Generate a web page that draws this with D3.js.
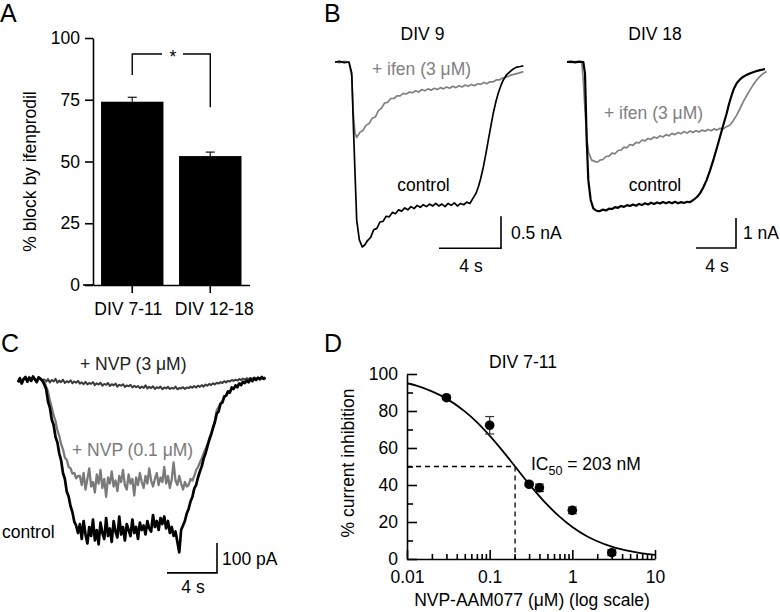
<!DOCTYPE html>
<html><head><meta charset="utf-8">
<script src="https://cdn.jsdelivr.net/npm/d3@7"></script>
<style>
body{margin:0;background:#fff;}
svg{display:block;font-family:"Liberation Sans",Arial,sans-serif;}
</style></head><body>
<svg id="fig" width="780" height="612"></svg>
<script>
// ================= DATA =================
// Panel A: % block by ifenprodil
const groupsA = ["DIV 7-11", "DIV 12-18"];
const blockA = [74.2, 52.2];
const semA = [1.8, 1.6];
const ticksA = [0, 25, 50, 75, 100];

// Panel B: traces [time s, current nA]
const div9Control = [[0,0],[0.3,0.01],[0.6,-0.01],[0.9,0],[1.08,-0.17],[1.18,-0.95],[1.29,-1.73],[1.40,-2.47],[1.57,-2.78],[1.76,-2.89],[1.92,-2.86],
 [2.1,-2.79],[2.3,-2.74],[2.5,-2.62],[2.7,-2.60],[2.9,-2.50],[3.1,-2.49],[3.3,-2.41],[3.5,-2.42],[3.7,-2.35],[3.9,-2.37],[4.1,-2.31],[4.3,-2.33],[4.5,-2.28],[4.7,-2.31],[4.9,-2.26],[5.1,-2.29],[5.3,-2.24],[5.5,-2.27],[5.7,-2.23],[5.9,-2.26],[6.1,-2.22],[6.3,-2.25],[6.5,-2.21],[6.7,-2.25],[6.9,-2.22],[7.1,-2.26],[7.3,-2.21],[7.5,-2.24],[7.7,-2.20],[7.9,-2.25],[8.1,-2.21],[8.3,-2.23],[8.5,-2.19],[8.7,-2.21],[8.9,-2.13],
 [9.1,-2.05],[9.25,-1.95],[9.4,-1.82],[9.57,-1.64],[9.73,-1.44],[9.89,-1.22],[10.05,-1.01],[10.21,-0.80],[10.37,-0.63],[10.54,-0.48],[10.7,-0.37],[10.86,-0.28],[11.07,-0.20],[11.29,-0.15],[11.5,-0.11],[11.72,-0.08],[11.95,-0.07],[12.15,-0.06]];
const div9Ifen = [[0,0],[0.3,-0.01],[0.6,0.01],[0.9,0],[1.08,-0.23],[1.18,-0.80],[1.29,-1.11],[1.40,-1.18],[1.6,-1.10],[1.8,-1.07],[2.0,-0.99],[2.2,-0.96],[2.4,-0.88],[2.6,-0.86],[2.8,-0.76],[3.0,-0.72],[3.2,-0.64],[3.4,-0.63],[3.6,-0.57],[3.8,-0.57],[4.0,-0.53],[4.2,-0.53],[4.4,-0.49],[4.6,-0.50],[4.8,-0.47],[5.0,-0.48],[5.2,-0.45],[5.4,-0.47],[5.6,-0.43],[5.8,-0.45],[6.0,-0.42],[6.2,-0.44],[6.4,-0.41],[6.6,-0.43],[6.8,-0.40],[7.0,-0.42],[7.2,-0.39],[7.4,-0.41],[7.6,-0.38],[7.8,-0.40],[8.0,-0.37],[8.2,-0.39],[8.4,-0.36],[8.6,-0.38],[8.8,-0.35],[9.0,-0.37],[9.2,-0.34],[9.4,-0.35],[9.6,-0.32],[9.8,-0.34],[10.0,-0.31],[10.2,-0.31],[10.4,-0.28],[10.6,-0.28],[10.8,-0.25],[11.0,-0.24],[11.3,-0.21],[11.6,-0.19],[11.9,-0.17],[12.15,-0.15]];
const div18Control = [[0,0],[0.4,0.01],[0.8,-0.01],[1.2,0.01],[1.63,0],[1.80,-0.38],[1.97,-2.60],[2.13,-3.93],[2.37,-4.60],[2.63,-4.88],[2.9,-4.95],[3.13,-4.97],
 [3.3,-4.97],[3.6,-4.92],[3.9,-4.95],[4.2,-4.89],[4.5,-4.90],[4.8,-4.84],[5.1,-4.86],[5.4,-4.80],[5.7,-4.83],[6.0,-4.77],[6.3,-4.80],[6.6,-4.75],[6.9,-4.79],[7.2,-4.73],[7.5,-4.77],[7.8,-4.71],[8.1,-4.75],[8.4,-4.69],[8.7,-4.73],[9.0,-4.68],[9.3,-4.72],[9.6,-4.67],[9.9,-4.71],[10.2,-4.67],[10.5,-4.71],[10.8,-4.66],[11.1,-4.71],[11.4,-4.67],[11.7,-4.70],[12.0,-4.66],[12.3,-4.67],
 [12.63,-4.60],[13.0,-4.50],[13.3,-4.38],[13.6,-4.20],[13.97,-3.93],[14.3,-3.62],[14.63,-3.27],[15.0,-2.85],[15.3,-2.49],[15.63,-2.10],[15.97,-1.71],[16.2,-1.40],[16.47,-1.10],[16.7,-0.88],[16.97,-0.71],[17.3,-0.58],[17.63,-0.49],[18.0,-0.42],[18.47,-0.36],[18.9,-0.31],[19.3,-0.27],[19.8,-0.24]];
const div18Ifen = [[0,0],[0.4,-0.01],[0.8,0.01],[1.2,0],[1.47,0],[1.63,-0.60],[1.80,-1.60],[2.00,-2.60],[2.17,-3.03],[2.47,-3.27],[2.9,-3.33],[3.13,-3.32],
 [3.3,-3.27],[3.6,-3.25],[3.9,-3.15],[4.2,-3.14],[4.5,-3.04],[4.8,-3.06],[5.1,-2.95],[5.4,-2.94],[5.7,-2.84],[6.0,-2.86],[6.3,-2.75],[6.6,-2.78],[6.9,-2.68],[7.2,-2.70],[7.5,-2.60],[7.8,-2.63],[8.1,-2.55],[8.4,-2.58],[8.7,-2.50],[9.0,-2.54],[9.3,-2.46],[9.6,-2.50],[9.9,-2.42],[10.2,-2.46],[10.5,-2.38],[10.8,-2.42],[11.1,-2.35],[11.4,-2.39],[11.7,-2.32],[12.0,-2.37],[12.3,-2.30],[12.6,-2.35],[12.9,-2.29],[13.2,-2.33],[13.5,-2.27],[13.8,-2.31],[14.1,-2.25],[14.4,-2.29],[14.7,-2.23],[15.0,-2.27],[15.3,-2.21],[15.6,-2.23],[15.9,-2.17],
 [16.3,-2.10],[16.6,-1.97],[16.97,-1.77],[17.3,-1.55],[17.63,-1.32],[18.0,-1.10],[18.3,-0.93],[18.6,-0.77],[18.97,-0.60],[19.3,-0.48],[19.63,-0.38],[19.97,-0.32]];

// Panel C: sampled traces (pA), one sample every dtC seconds
const dtC = 0.15;
const cControl = [-8,5,-12,3,10,-5,8,-3,12,2,-6,9,4,-2,
 -15,-30,-72,-92,-132,-150,-190,-208,-245,-268,-310,-330,-372,-388,-420,-440,-472,-485,-510,
 -480,-530,-470,-515,-545,-490,-520,-465,-535,-500,-548,-475,-510,-530,-460,-520,-495,-540,-470,-505,
 -525,-455,-515,-490,-535,-480,-500,-520,-465,-510,-490,-530,-475,-500,-485,-515,-470,-495,-505,-450,
 -490,-470,-500,-460,-480,-455,-495,-470,-510,-490,-520,-505,-540,-575,
 -500,-485,-470,-445,-430,-405,-390,-362,-350,-325,-305,-288,-262,-245,-222,-200,-182,-160,-140,
 -112,-105,-80,-75,-55,-52,-38,-42,-25,-30,-18,-24,-12,-17,-6,-10,-2,-8,3,-4,6,0,8,2,10,4,8];
const cNvp01 = [-4,8,-8,5,6,-7,10,-1,7,4,-9,6,2,-4,
 -5,-22,-38,-68,-92,-118,-137,-168,-186,-214,-231,-259,-266,-290,-294,-312,-310,-328,-320,
 -320,-350,-310,-365,-330,-295,-355,-340,-375,-315,-345,-300,-360,-330,-390,-325,-345,-305,-355,-335,
 -370,-320,-340,-300,-350,-365,-315,-345,-330,-385,-325,-350,-310,-340,-360,-320,-345,-295,-335,-355,
 -330,-310,-350,-325,-340,-290,-345,-320,-360,-330,-275,-335,-350,-320,-345,-365,-340,-355,-350,-330,
 -335,-320,-300,-290,-275,-262,-245,-230,-215,-195,-178,-158,-138,
 -100,-90,-78,-70,-58,-52,-42,-38,-30,-27,-20,-18,-12,-12,-6,-6,-2,-4,2,0,4,2,6,3,7,4,6];
const cNvp3 = [-6,4,-10,2,8,-4,6,-2,9,1,-5,7,3,-1,
 2,-6,3,-8,0,-5,4,-9,-2,-7,1,-10,-4,-8,-1,-11,-5,-9,-3,-12,
 -8,-14,-6,-15,-10,-13,-7,-17,-11,-15,-9,-19,-13,-16,-10,-20,-14,-18,-12,-22,-16,-19,-14,-23,-18,-21,-16,
 -25,-19,-24,-20,-27,-22,-26,-18,-28,-23,-27,-21,-30,-24,-27,-22,-31,-25,-28,-23,-30,-26,-29,-22,-31,-27,-28,-24,-30,-25,
 -27,-22,-26,-20,-25,-19,-23,-17,-22,-15,-19,-13,-17,-11,-15,-9,-12,-7,-10,-4,-8,-3,-5,0,-3,
 1,-2,3,0,5,1,6,2,7,3,8,4,7,5,9,4,8];

// Panel D: dose-response
const dConc = [0.03, 0.1, 0.3, 0.4, 1, 3];
const dInhib = [87.2, 72.3, 40.4, 38.5, 26.3, 3.4];
const dErr = [0.8, 4.7, 1.0, 2.0, 1.8, 1.5];
const fitConc = [0.01,0.013,0.02,0.03,0.05,0.07,0.1,0.15,0.2,0.3,0.5,0.7,1,1.5,2,3,5,7,10];
const fitInhib = [95.0,93.7,90.6,86.7,79.8,74.0,66.7,57.4,50.4,40.5,29.2,22.9,17.3,12.3,9.6,6.7,4.2,3.0,2.2];
const ic50 = 0.203;
const yTicksD = [0, 20, 40, 60, 80, 100];
const yMinorD = [10, 30, 50, 70, 90];
const xTicksD = [0.01, 0.1, 1, 10];
const xMinorD = [0.02,0.03,0.04,0.05,0.06,0.07,0.08,0.09,0.2,0.3,0.4,0.5,0.6,0.7,0.8,0.9,2,3,4,5,6,7,8,9];

// ================= DRAWING =================
const FS = 17.5;
const svg = d3.select("#fig");
svg.append("rect").attr("width",780).attr("height",612).attr("fill","#fff");

function txt(x, y, s, opts = {}) {
  const t = svg.append("text").attr("x", x).attr("y", y).text(s)
    .attr("font-size", opts.size || FS).attr("fill", opts.fill || "#000")
    .attr("text-anchor", opts.anchor || "start");
  if (opts.rotate) t.attr("transform", `rotate(-90,${x},${y})`);
  return t;
}
function styleAxis(g) {
  g.selectAll("path,line").attr("stroke", "#000").attr("stroke-width", 1.6);
  g.selectAll("text").attr("font-size", FS).attr("fill", "#000").attr("font-family", "Liberation Sans, Arial, sans-serif");
}

// Panel letters
txt(0, 22, "A", {size: 25});
txt(324, 22, "B", {size: 25});
txt(1, 352, "C", {size: 25});
txt(324, 352, "D", {size: 25});

// ---------- Panel A ----------
const xA = d3.scaleBand().domain(groupsA).range([93, 249.5]).paddingInner(0.2).paddingOuter(0.103);
const yA = d3.scaleLinear().domain([0, 100]).range([285, 38]);
const gA = svg.append("g");
gA.selectAll("rect.bar").data(groupsA).join("rect")
  .attr("x", d => xA(d)).attr("width", xA.bandwidth())
  .attr("y", (d, i) => yA(blockA[i])).attr("height", (d, i) => yA(0) - yA(blockA[i]))
  .attr("fill", "#000");
gA.selectAll("line.err").data(groupsA).join("line")
  .attr("x1", d => xA(d) + xA.bandwidth()/2).attr("x2", d => xA(d) + xA.bandwidth()/2)
  .attr("y1", (d, i) => yA(blockA[i])).attr("y2", (d, i) => yA(blockA[i] + semA[i]))
  .attr("stroke", "#222").attr("stroke-width", 1.3);
gA.selectAll("line.cap").data(groupsA).join("line")
  .attr("x1", d => xA(d) + xA.bandwidth()/2 - 4.5).attr("x2", d => xA(d) + xA.bandwidth()/2 + 4.5)
  .attr("y1", (d, i) => yA(blockA[i] + semA[i])).attr("y2", (d, i) => yA(blockA[i] + semA[i]))
  .attr("stroke", "#222").attr("stroke-width", 1.3);
const axA = svg.append("g").attr("transform", "translate(93,0)")
  .call(d3.axisLeft(yA).tickValues(ticksA).tickSize(8).tickSizeOuter(0).tickPadding(5));
styleAxis(axA);
const axAx = svg.append("g").attr("transform", `translate(0,${yA(0)})`)
  .call(d3.axisBottom(xA).tickSize(8).tickSizeOuter(0).tickPadding(9.5));
styleAxis(axAx);
axAx.selectAll(".tick text").attr("dx", (d, i) => i === 0 ? -4 : 4);
svg.append("line").attr("x1", 83).attr("x2", 93).attr("y1", yA(0)).attr("y2", yA(0))
  .attr("stroke", "#000").attr("stroke-width", 1.6);
txt(36, 171.5, "% block by ifenprodil", {anchor: "middle", rotate: true});
// significance bracket
const c1 = xA(groupsA[0]) + xA.bandwidth()/2, c2 = xA(groupsA[1]) + xA.bandwidth()/2;
const brY = yA(93.5);
const br = d3.path();
br.moveTo(c1, yA(85)); br.lineTo(c1, brY); br.lineTo(162, brY);
br.moveTo(183, brY); br.lineTo(c2, brY); br.lineTo(c2, yA(72));
svg.append("path").attr("d", br.toString()).attr("fill", "none").attr("stroke", "#000").attr("stroke-width", 1.4);
txt(173, 63, "*", {anchor: "middle"});

// ---------- Panel B ----------
const xB9 = d3.scaleLinear().domain([0, 4]).range([335, 397]);
const yB9 = d3.scaleLinear().domain([0, -0.5]).range([62, 94]);
const xB18 = d3.scaleLinear().domain([0, 4]).range([567, 607]);
const yB18 = d3.scaleLinear().domain([0, -1]).range([62, 92]);
const lineB9 = d3.line().x(d => xB9(d[0])).y(d => yB9(d[1]));
const lineB18 = d3.line().x(d => xB18(d[0])).y(d => yB18(d[1]));
svg.append("path").attr("d", lineB9(div9Ifen)).attr("fill","none").attr("stroke","#808080").attr("stroke-width",1.7).attr("stroke-linejoin","round");
svg.append("path").attr("d", lineB9(div9Control)).attr("fill","none").attr("stroke","#000").attr("stroke-width",1.7).attr("stroke-linejoin","round");
svg.append("path").attr("d", lineB18(div18Ifen)).attr("fill","none").attr("stroke","#808080").attr("stroke-width",1.7).attr("stroke-linejoin","round");
svg.append("path").attr("d", lineB18(div18Control)).attr("fill","none").attr("stroke","#000").attr("stroke-width",2.2).attr("stroke-linejoin","round");
// scale bars
function scaleBar(x0, x1, yb, yt) {
  const p = d3.path(); p.moveTo(x0, yb); p.lineTo(x1, yb); p.lineTo(x1, yt);
  svg.append("path").attr("d", p.toString()).attr("fill","none").attr("stroke","#000").attr("stroke-width",1.6);
}
scaleBar(xB9(6.71), xB9(10.71), yB9(-2.91), yB9(-2.41));
scaleBar(xB18(12.9), xB18(16.9), yB18(-6.2), yB18(-5.2));
txt(422.5, 40, "DIV 9", {anchor: "middle"});
txt(655, 40, "DIV 18", {anchor: "middle"});
txt(372, 75, "+ ifen (3 μM)", {fill: "#808080"});
txt(604, 119, "+ ifen (3 μM)", {fill: "#808080"});
txt(423.5, 191, "control", {anchor: "middle"});
txt(655, 191, "control", {anchor: "middle"});
txt(511, 239, "0.5 nA");
txt(743, 239, "1 nA");
txt(471, 272, "4 s", {anchor: "middle"});
txt(717, 272, "4 s", {anchor: "middle"});

// ---------- Panel C ----------
const xC = d3.scaleLinear().domain([0, 4]).range([18, 68]);
const yC = d3.scaleLinear().domain([0, -100]).range([380, 410]);
const lineC = d3.line().x((d, i) => xC(i * dtC)).y(d => yC(d));
svg.append("path").attr("d", lineC(cNvp3)).attr("fill","none").attr("stroke","#3a3a3a").attr("stroke-width",2).attr("stroke-linejoin","round");
svg.append("path").attr("d", lineC(cNvp01)).attr("fill","none").attr("stroke","#7a7a7a").attr("stroke-width",2.3).attr("stroke-linejoin","round");
svg.append("path").attr("d", lineC(cControl)).attr("fill","none").attr("stroke","#000").attr("stroke-width",2.7).attr("stroke-linejoin","round");
scaleBar(xC(11.92), xC(15.92), yC(-643), yC(-543));
txt(80, 370, "+ NVP (3 μM)", {fill: "#222"});
txt(72, 456, "+ NVP (0.1 μM)", {fill: "#7a7a7a"});
txt(2, 538, "control");
txt(222, 565, "100 pA");
txt(193, 593, "4 s", {anchor: "middle"});

// ---------- Panel D ----------
const xD = d3.scaleLog().domain([0.01, 10]).range([407, 655]);
const yD = d3.scaleLinear().domain([0, 100]).range([559, 374]);
// dashed IC50 guides
svg.append("line").attr("x1", xD(0.01)).attr("x2", xD(ic50)).attr("y1", yD(50)).attr("y2", yD(50))
  .attr("stroke","#000").attr("stroke-width",1.3).attr("stroke-dasharray","5,4");
svg.append("line").attr("x1", xD(ic50)).attr("x2", xD(ic50)).attr("y1", yD(50)).attr("y2", yD(0))
  .attr("stroke","#000").attr("stroke-width",1.3).attr("stroke-dasharray","5,4");
// fit curve
const fitLine = d3.line().x((d, i) => xD(fitConc[i])).y(d => yD(d)).curve(d3.curveMonotoneX);
svg.append("path").attr("d", fitLine(fitInhib)).attr("fill","none").attr("stroke","#000").attr("stroke-width",1.8);
// error bars
const gD = svg.append("g");
dConc.forEach((c, i) => {
  const x = xD(c);
  gD.append("line").attr("x1", x).attr("x2", x).attr("y1", yD(dInhib[i] - dErr[i])).attr("y2", yD(dInhib[i] + dErr[i])).attr("stroke","#333").attr("stroke-width",1.2);
  [dInhib[i] - dErr[i], dInhib[i] + dErr[i]].forEach(v => {
    gD.append("line").attr("x1", x - 4.5).attr("x2", x + 4.5).attr("y1", yD(v)).attr("y2", yD(v)).attr("stroke","#333").attr("stroke-width",1.2);
  });
});
gD.selectAll("circle").data(dConc).join("circle")
  .attr("cx", d => xD(d)).attr("cy", (d, i) => yD(dInhib[i])).attr("r", 4.8).attr("fill", "#000");
// axes
const axDy = svg.append("g").attr("transform", `translate(${xD(0.01)},0)`)
  .call(d3.axisLeft(yD).tickValues(yTicksD).tickSizeInner(-10).tickSizeOuter(0).tickPadding(9));
styleAxis(axDy);
const axDy2 = svg.append("g").attr("transform", `translate(${xD(0.01)},0)`)
  .call(d3.axisLeft(yD).tickValues(yMinorD).tickSize(-6).tickFormat(""));
axDy2.select(".domain").remove();
styleAxis(axDy2);
const axDx = svg.append("g").attr("transform", `translate(0,${yD(0)})`)
  .call(d3.axisBottom(xD).tickValues(xTicksD).tickSizeInner(-9).tickSizeOuter(0).tickPadding(11.5).tickFormat(d => String(d)));
styleAxis(axDx);
const axDx2 = svg.append("g").attr("transform", `translate(0,${yD(0)})`)
  .call(d3.axisBottom(xD).tickValues(xMinorD).tickSize(-5).tickFormat(""));
axDx2.select(".domain").remove();
styleAxis(axDx2);
txt(523, 368, "DIV 7-11", {anchor: "middle"});
txt(354, 463, "% current inhibition", {anchor: "middle", rotate: true});
txt(532, 606, "NVP-AAM077 (μM) (log scale)", {anchor: "middle"});
const ic = txt(531, 470, "IC");
ic.append("tspan").attr("font-size", 12.5).attr("dy", 5).text("50");
ic.append("tspan").attr("dy", -5).text(" = 203 nM");
</script>
</body></html>
